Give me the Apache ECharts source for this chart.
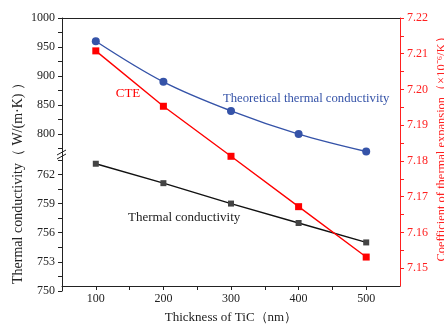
<!DOCTYPE html>
<html><head><meta charset="utf-8">
<script src="https://cdn.jsdelivr.net/npm/echarts@6/dist/echarts.min.js"></script>
<style>html,body{margin:0;padding:0;background:#fff}#c{width:444px;height:329px}</style>
</head><body><div id="c"></div>
<script>
var thickness = [100, 200, 300, 400, 500];
var theoretical = [960, 890, 840, 800, 770];
var thermal = [763.1, 761.1, 759.0, 757.0, 755.0];
var cte = [7.2108, 7.1953, 7.1813, 7.1672, 7.1531];

var xLabels = [100, 200, 300, 400, 500];
var xTicks = [100, 150, 200, 250, 300, 350, 400, 450, 500];
var upperLabels = [800, 850, 900, 950, 1000];
var upperTicks = [775, 800, 825, 850, 875, 900, 925, 950, 975, 1000];
var lowerLabels = [750, 753, 756, 759, 762];
var lowerTicks = [750, 751.5, 753, 754.5, 756, 757.5, 759, 760.5, 762, 763.5];
var rightLabels = [7.15, 7.16, 7.17, 7.18, 7.19, 7.20, 7.21, 7.22];
var rightTicks = [7.15, 7.155, 7.16, 7.165, 7.17, 7.175, 7.18, 7.185, 7.19, 7.195, 7.20, 7.205, 7.21, 7.215, 7.22];

var FONT = 'Liberation Serif';
var L = 62, R = 44, T = 18, B = 38, BREAK = 155;

function pairs(ys) { return thickness.map(function (x, i) { return [x, ys[i]]; }); }
function hiddenX(gi) {
  return { type: 'value', gridIndex: gi, min: 50, max: 550, show: false };
}
function plain(v) { return String(v); }

var chart = echarts.init(document.getElementById('c'), null, { renderer: 'canvas' });
chart.setOption({
  animation: false,
  backgroundColor: '#fff',
  grid: [
    { left: L, right: R, top: T, bottom: B },
    { left: L, right: R, top: T, height: BREAK - T },
    { left: L, right: R, top: BREAK, bottom: B }
  ],
  xAxis: [
    { type: 'value', gridIndex: 0, min: 50, max: 550, position: 'bottom',
      name: 'Thickness of TiC（nm）', nameLocation: 'middle', nameGap: 25,
      nameTextStyle: { fontFamily: FONT, fontSize: 13, color: '#222' },
      axisLine: { show: true, onZero: false, lineStyle: { color: '#222', width: 1 } },
      axisTick: { show: true, inside: false, length: 4, customValues: xTicks, lineStyle: { color: '#222' } },
      axisLabel: { customValues: xLabels, fontFamily: FONT, fontSize: 12, color: '#222', margin: 7, formatter: plain },
      splitLine: { show: false } },
    { type: 'value', gridIndex: 0, min: 50, max: 550, position: 'top',
      axisLine: { show: true, onZero: false, lineStyle: { color: '#222', width: 1 } },
      axisTick: { show: false }, axisLabel: { show: false }, splitLine: { show: false } },
    hiddenX(1),
    hiddenX(2)
  ],
  yAxis: [
    { type: 'value', gridIndex: 0, position: 'right', min: 7.145, max: 7.22,
      axisLine: { show: true, onZero: false, lineStyle: { color: '#ff2020', width: 1 } },
      axisTick: { show: true, inside: false, length: 4, customValues: rightTicks, lineStyle: { color: '#ff2020' } },
      axisLabel: { customValues: rightLabels, fontFamily: FONT, fontSize: 12, color: '#ff2020', margin: 7,
        formatter: function (v) { return v.toFixed(2); } },
      splitLine: { show: false } },
    { type: 'value', gridIndex: 1, position: 'left', min: 764, max: 1000,
      axisLine: { show: true, onZero: false, lineStyle: { color: '#222', width: 1 } },
      axisTick: { show: true, inside: false, length: 4, customValues: upperTicks, lineStyle: { color: '#222' } },
      axisLabel: { customValues: upperLabels, fontFamily: FONT, fontSize: 12, color: '#222', margin: 7, formatter: plain },
      splitLine: { show: false } },
    { type: 'value', gridIndex: 2, position: 'left', min: 750, max: 764,
      axisLine: { show: true, onZero: false, lineStyle: { color: '#222', width: 1 } },
      axisTick: { show: true, inside: false, length: 4, customValues: lowerTicks, lineStyle: { color: '#222' } },
      axisLabel: { customValues: lowerLabels, fontFamily: FONT, fontSize: 12, color: '#222', margin: 7, formatter: plain },
      splitLine: { show: false } }
  ],
  series: [
    { name: 'Theoretical thermal conductivity', type: 'line', xAxisIndex: 2, yAxisIndex: 1,
      data: pairs(theoretical), smooth: 0.35, symbol: 'circle', symbolSize: 8,
      lineStyle: { color: '#3553a8', width: 1.4 }, itemStyle: { color: '#3553a8' } },
    { name: 'Thermal conductivity', type: 'line', xAxisIndex: 3, yAxisIndex: 2,
      data: pairs(thermal), symbol: 'rect', symbolSize: 6,
      lineStyle: { color: '#111', width: 1.4 }, itemStyle: { color: '#444' } },
    { name: 'CTE', type: 'line', xAxisIndex: 0, yAxisIndex: 0,
      data: pairs(cte), symbol: 'rect', symbolSize: 7,
      lineStyle: { color: '#ff0000', width: 1.4 }, itemStyle: { color: '#ff0000' } }
  ],
  graphic: [
    { type: 'text', x: 18, y: 180, rotation: Math.PI / 2,
      style: { text: 'Thermal conductivity（ W/(m·K) ）', font: '14px "' + FONT + '"', fill: '#222', align: 'center', verticalAlign: 'middle' } },
    { type: 'text', x: 442, y: 146, rotation: Math.PI / 2,
      style: { text: 'Coefficient of thermal expansion（×10⁻⁶/K）', font: '12.5px "' + FONT + '"', fill: '#ff2020', align: 'center', verticalAlign: 'middle' } },
    { type: 'text', x: 128, y: 94,
      style: { text: 'CTE', font: '13px "' + FONT + '"', fill: '#ff0000', align: 'center', verticalAlign: 'middle' } },
    { type: 'text', x: 223, y: 99,
      style: { text: 'Theoretical thermal conductivity', font: '12.7px "' + FONT + '"', fill: '#3553a8', align: 'left', verticalAlign: 'middle' } },
    { type: 'text', x: 128, y: 218,
      style: { text: 'Thermal conductivity', font: '13px "' + FONT + '"', fill: '#222', align: 'left', verticalAlign: 'middle' } },
    { type: 'line', shape: { x1: 57, y1: 155, x2: 66, y2: 150 }, style: { stroke: '#222', lineWidth: 1 } },
    { type: 'line', shape: { x1: 57, y1: 159, x2: 66, y2: 154 }, style: { stroke: '#222', lineWidth: 1 } }
  ]
});
</script></body></html>
